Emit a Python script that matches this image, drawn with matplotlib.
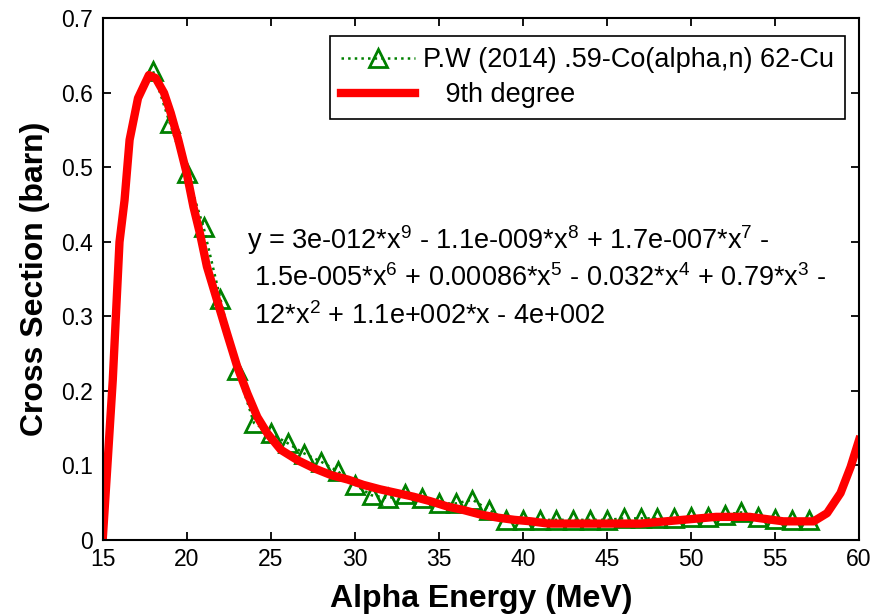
import numpy as np
import matplotlib
matplotlib.use('Agg')
import matplotlib.pyplot as plt
from matplotlib.ticker import FormatStrFormatter

plt.rcParams['font.family'] = ['Liberation Sans', 'DejaVu Sans']
plt.rcParams['mathtext.fontset'] = 'custom'
plt.rcParams['mathtext.rm'] = 'Liberation Sans'
plt.rcParams['mathtext.it'] = 'Liberation Sans'

# measured cross sections (triangles)
E_data = [18, 19, 20, 21, 22, 23, 24, 25, 26, 27, 28, 29, 30, 31, 32, 33, 34, 35,
          36, 37, 38, 39, 40, 41, 42, 43, 44, 45, 46, 47, 48, 49, 50, 51, 52, 53,
          54, 55, 56, 57]
sigma_data = [0.629, 0.559, 0.492, 0.420, 0.324, 0.228, 0.157, 0.143, 0.130, 0.116,
              0.105, 0.092, 0.074, 0.060, 0.056, 0.062, 0.056, 0.049, 0.049, 0.054,
              0.040, 0.027, 0.027, 0.027, 0.027, 0.027, 0.027, 0.027, 0.029, 0.029,
              0.029, 0.029, 0.031, 0.031, 0.034, 0.037, 0.031, 0.028, 0.027, 0.027]

# 9th degree fit curve
E_fit = [15, 15.3, 15.6, 16.0, 16.3, 16.6, 17.1, 17.75, 18.15, 18.65, 19.05, 19.5,
         20.0, 20.4, 20.8, 21.2, 21.8, 22.4, 23.0, 23.6, 24.2, 24.8, 25.6, 26.6,
         27.6, 28.6, 29.6, 30.5, 31.5, 32.5, 33.5, 34.5, 35.5, 36.5, 37.5, 38.5,
         39.5, 40.5, 41.5, 43.5, 45.5, 47.0, 48.5, 49.5, 50.5, 51.5, 53.5, 54.5,
         55.5, 57.3, 58.1, 58.9, 59.5, 60.0]
sigma_fit = [0.0, 0.107, 0.215, 0.400, 0.456, 0.537, 0.593, 0.624, 0.620, 0.600,
             0.573, 0.537, 0.492, 0.447, 0.410, 0.367, 0.322, 0.277, 0.233, 0.197,
             0.165, 0.143, 0.121, 0.107, 0.096, 0.087, 0.081, 0.074, 0.068, 0.063,
             0.058, 0.052, 0.045, 0.040, 0.034, 0.030, 0.027, 0.025, 0.022, 0.022,
             0.022, 0.022, 0.025, 0.027, 0.029, 0.031, 0.031, 0.028, 0.025, 0.025,
             0.036, 0.063, 0.098, 0.134]

eq_lines = [r'y = 3e-012*x$^{9}$ - 1.1e-009*x$^{8}$ + 1.7e-007*x$^{7}$ -',
            r' 1.5e-005*x$^{6}$ + 0.00086*x$^{5}$ - 0.032*x$^{4}$ + 0.79*x$^{3}$ -',
            r' 12*x$^{2}$ + 1.1e+002*x - 4e+002']

fig = plt.figure(figsize=(8.77, 6.15), dpi=100)
ax = fig.add_axes([0.1171, 0.122, 0.8624, 0.848])

ax.plot(E_data, sigma_data, ':', color=(0, 0.5, 0), lw=1.8, marker='^', ms=13,
        mfc='none', mec=(0, 0.5, 0), mew=2.0,
        label='P.W (2014) .59-Co(alpha,n) 62-Cu')
ax.plot(E_fit, sigma_fit, '-', color='red', lw=6, label='   9th degree')

ax.set_xlim(15, 60)
ax.set_ylim(0, 0.7)
ax.set_xticks(np.arange(15, 61, 5))
ax.set_yticks(np.arange(0, 0.71, 0.1))
ax.yaxis.set_major_formatter(FormatStrFormatter('%g'))
ax.tick_params(direction='in', top=True, right=True, length=5.5, width=1.3,
               labelsize=16.5)
ax.tick_params(axis='x', pad=6)
ax.tick_params(axis='y', pad=7)
for s in ax.spines.values():
    s.set_linewidth(1.5)

ax.set_xlabel('Alpha Energy (MeV)', fontsize=23, fontweight='bold', labelpad=9)
ax.set_ylabel('Cross Section (barn)', fontsize=23, fontweight='bold', labelpad=8)

y0 = 0.403
for i, line in enumerate(eq_lines):
    ax.text(23.6, y0 - i * 0.051, line, fontsize=19.5, va='center', ha='left')

leg = ax.legend(loc='upper right', bbox_to_anchor=(0.9815, 0.9664), fontsize=19.5,
                frameon=True, fancybox=False, edgecolor='black', framealpha=1,
                handlelength=2.7, handletextpad=0.3, borderpad=0.42,
                labelspacing=0.32, borderaxespad=0, markerscale=1.0)
leg.get_frame().set_linewidth(1.2)

fig.savefig('out.png', dpi=100)
